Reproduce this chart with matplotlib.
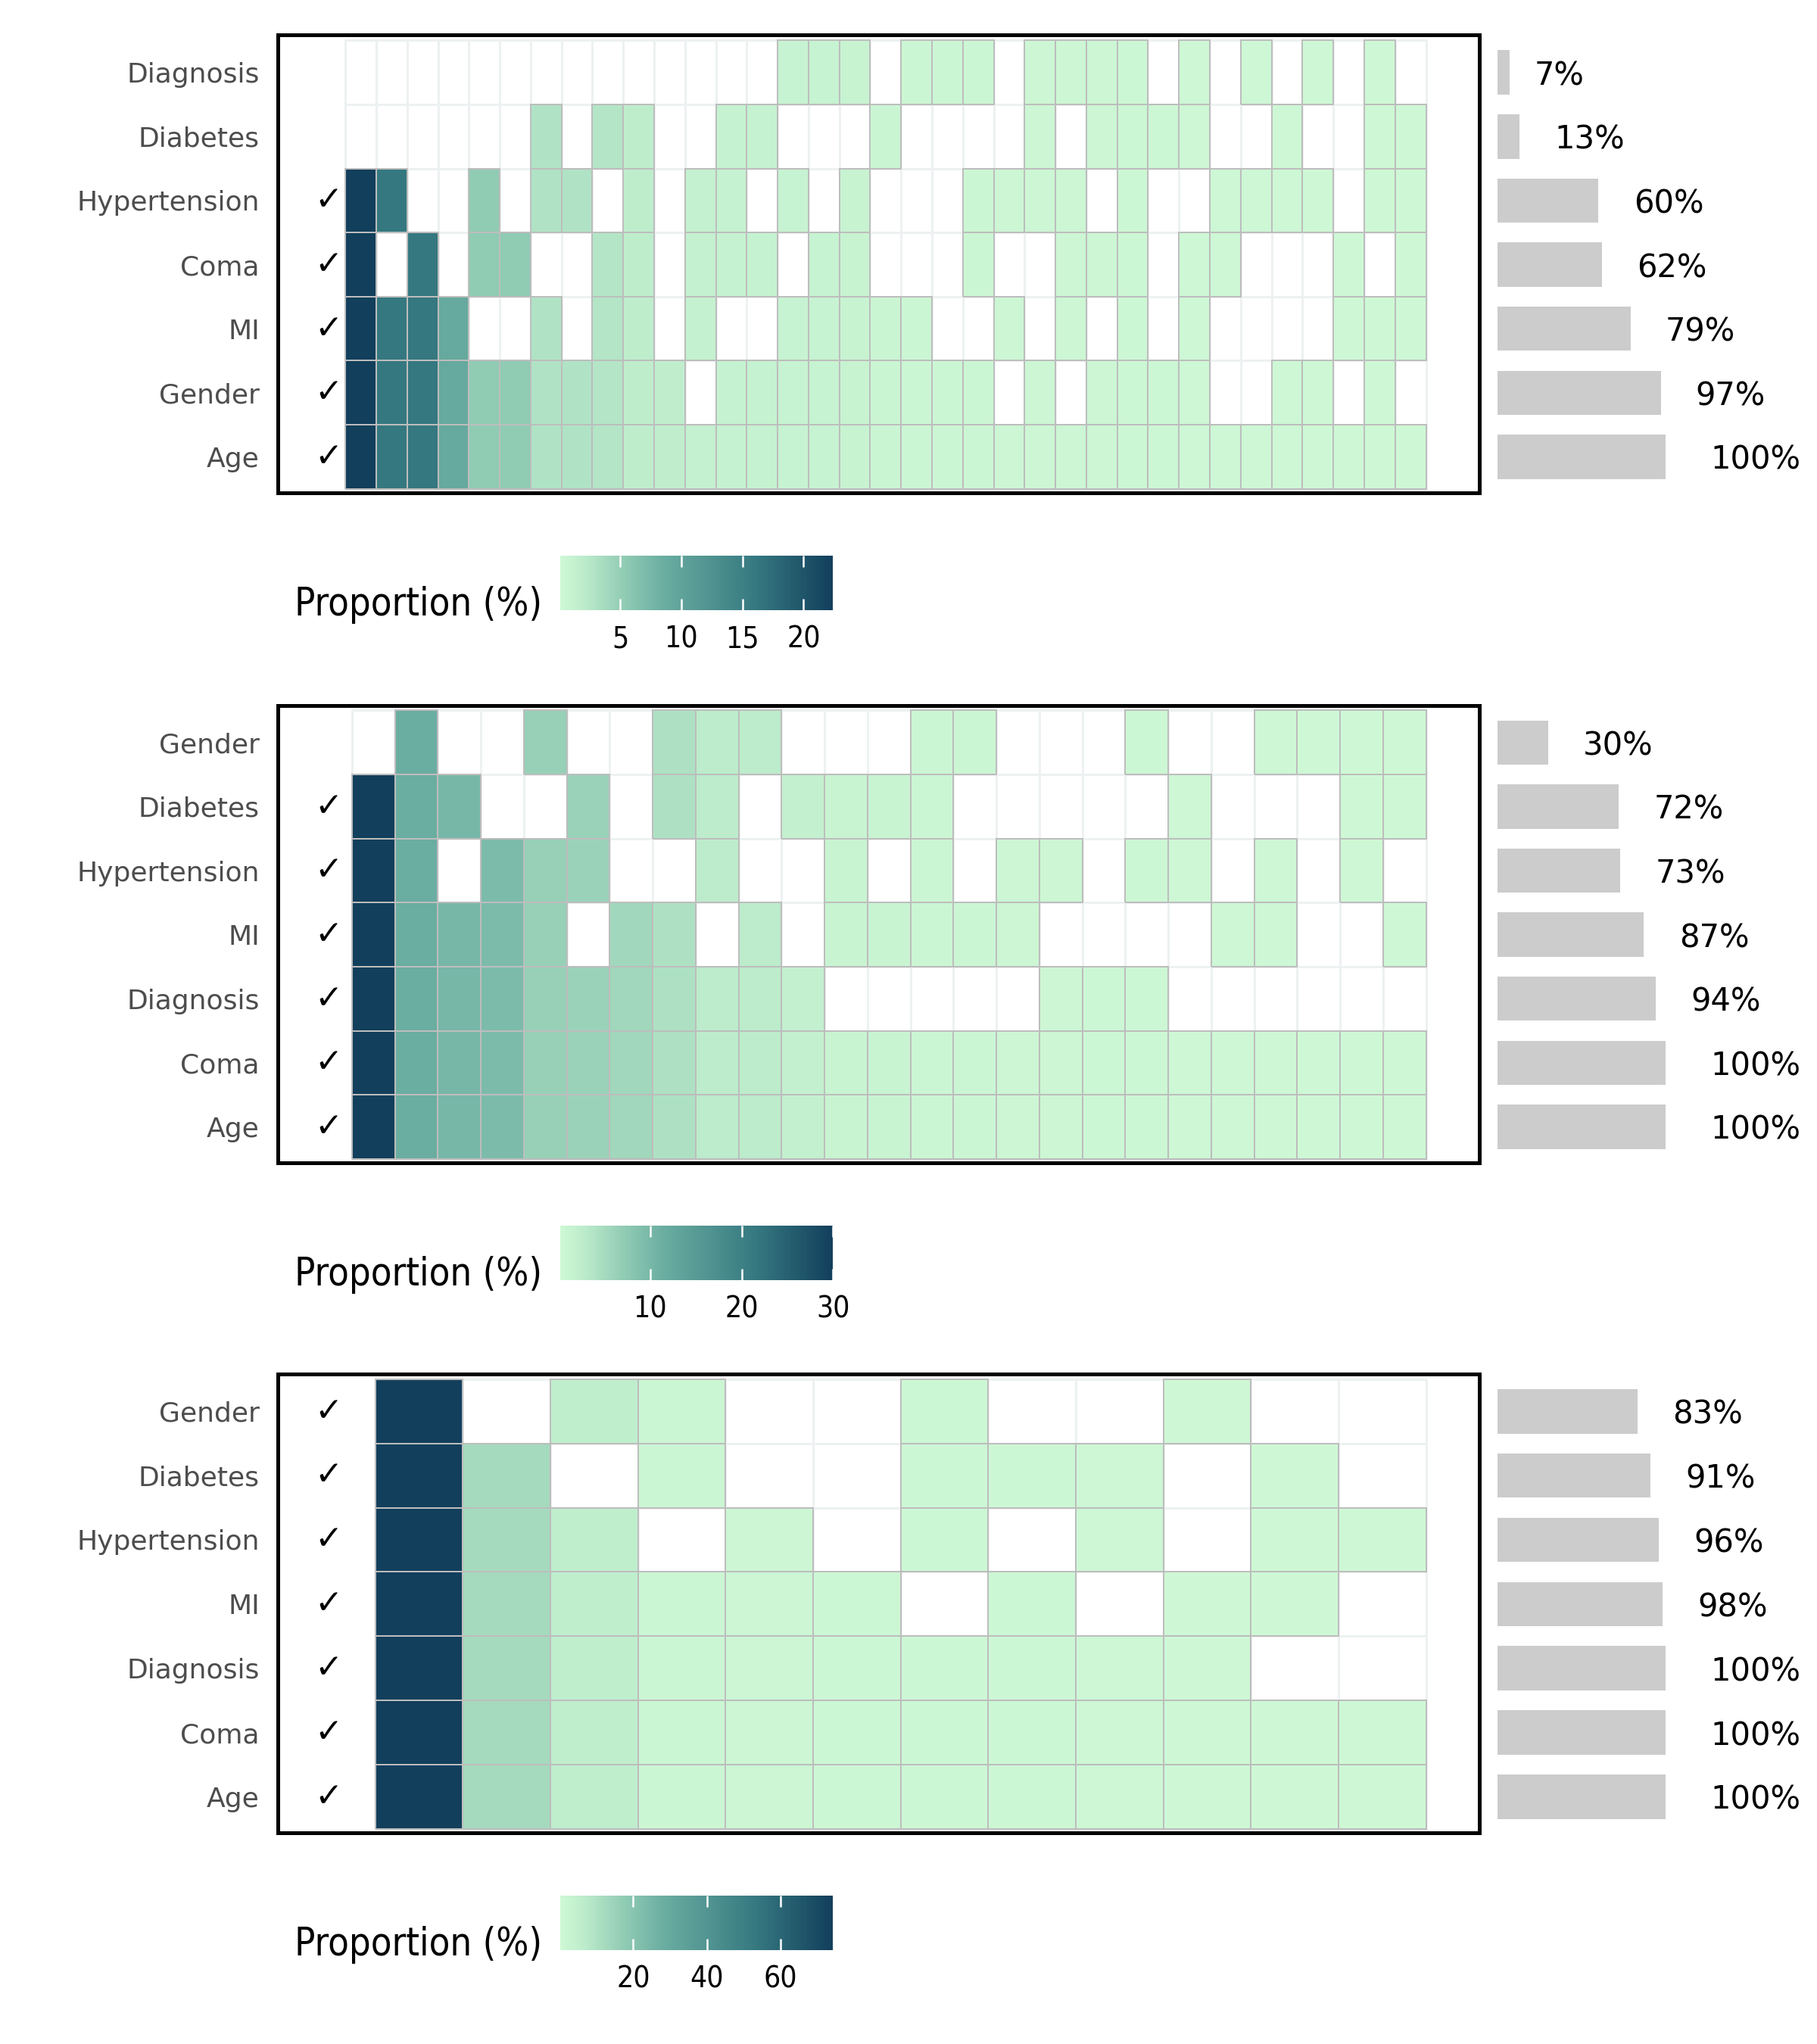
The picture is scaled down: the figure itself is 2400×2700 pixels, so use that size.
import numpy as np
import matplotlib
matplotlib.use("Agg")
import matplotlib.pyplot as plt
from matplotlib.colors import ListedColormap, LinearSegmentedColormap, to_rgba
import matplotlib.transforms as mtransforms

# -- Data ------------------------------------------------------------------
# Each panel: variables (top to bottom), proportion (%) of each pattern column,
# inclusion pattern per variable ("1" = variable in that column), and the
# share (%) shown in the grey bars.

P1_ROWS = ["Diagnosis", "Diabetes", "Hypertension", "Coma", "MI", "Gender", "Age"]
P1_PROPS = [22.4, 16.2, 16.2, 9.2, 5.4, 5.4, 3.0, 3.0, 2.8, 1.9, 1.7, 1.3,
            1.2, 1.1, 1.0, 1.0, 0.95, 0.6, 0.55, 0.5, 0.5, 0.45, 0.45, 0.4,
            0.4, 0.35, 0.35, 0.3, 0.3, 0.25, 0.25, 0.2, 0.2, 0.15, 0.13]
P1_PATTERN = [
    "00000000000000111011101111010101010",
    "00000010110011000100001011110010011",
    "11001011010110101000111101001111011",
    "10101100110111011000100111011000101",
    "11110010110100111110010101010000111",
    "11111111111011111111101011110011010",
    "11111111111111111111111111111111111",
]
P1_SHARE = [7, 13, 60, 62, 79, 97, 100]
P1_TICKS = [5, 10, 15, 20]

P2_ROWS = ["Gender", "Diabetes", "Hypertension", "MI", "Diagnosis", "Coma", "Age"]
P2_PROPS = [30.0, 11.5, 10.0, 9.55, 6.5, 6.2, 5.5, 4.2, 2.8, 2.8, 1.9, 1.2,
            1.18, 0.7, 0.65, 0.6, 0.55, 0.5, 0.45, 0.4, 0.35, 0.3, 0.25, 0.2, 0.17]
P2_PATTERN = [
    "0100100111000110001001111",
    "1110010110111100000100011",
    "1101110010010101101101010",
    "1111101101011111000011001",
    "1111111111100000111000000",
    "1111111111111111111111111",
    "1111111111111111111111111",
]
P2_SHARE = [30, 72, 73, 87, 94, 100, 100]
P2_TICKS = [10, 20, 30]

P3_ROWS = ["Gender", "Diabetes", "Hypertension", "MI", "Diagnosis", "Coma", "Age"]
P3_PROPS = [74.2, 12.4, 5.84, 1.5, 1.3, 1.1, 1.0, 0.9, 0.74, 0.5, 0.3, 0.26]
P3_PATTERN = [
    "101100100100",
    "110100111010",
    "111010101011",
    "111111010110",
    "111111111100",
    "111111111111",
    "111111111111",
]
P3_SHARE = [83, 91, 96, 98, 100, 100, 100]
P3_TICKS = [20, 40, 60]

# -- Style -------------------------------------------------------------------

FIG_W, FIG_H, DPI = 12, 13.5, 200
REF_W, REF_H = 1394, 1568          # layout grid the positions below refer to

CMAP = LinearSegmentedColormap.from_list("mint_navy", [
    (0.00, "#CEF8D5"),
    (0.08, "#BEEDCC"),
    (0.21, "#97D0B7"),
    (0.38, "#6AADA1"),
    (0.72, "#357880"),
    (1.00, "#123F5C"),
])
CELL_EDGE = "#BDBDBD"
EMPTY_EDGE = "#EDF1F1"
BAR_GREY = "#CCCCCC"
LABEL_GREY = "#4D4D4D"


def fx(px):
    return px / REF_W


def fy(py):
    return 1 - py / REF_H


# -- Panel -------------------------------------------------------------------

def draw_panel(fig, rows, props, pattern, share, ticks, top, bottom, heat_left, cb_top):
    n, nr = len(props), len(rows)
    box_l, box_r, heat_r = 213, 1135, 1094
    w = (heat_r - heat_left) / n
    row_h = (bottom - top - 7) / nr

    ax = fig.add_axes([fx(box_l), fy(bottom), fx(box_r) - fx(box_l), fy(top) - fy(bottom)])
    grid = np.array([[int(ch) for ch in p] for p in pattern[::-1]])
    vals = np.tile(np.asarray(props, float), (nr, 1))
    z = np.ma.masked_where(grid == 0, vals)
    xe, ye = np.arange(n + 1), np.arange(nr + 1)
    # faint grid behind the empty cells
    ax.pcolormesh(xe, ye, np.zeros((nr, n)), cmap=ListedColormap(["white"]),
                  edgecolors=EMPTY_EDGE, linewidth=0.5)
    mesh = ax.pcolormesh(xe, ye, z, cmap=CMAP, vmin=min(props), vmax=max(props),
                         linewidth=0.6)
    edge = np.array([to_rgba(CELL_EDGE) if g else (0, 0, 0, 0) for g in grid.ravel()])
    mesh.set_edgecolor(edge)
    ax.set_xlim(-(heat_left - box_l) / w, n + (box_r - heat_r) / w)
    ylim = (-3 / row_h, nr + 4 / row_h)
    ax.set_ylim(*ylim)

    yc = np.arange(nr)[::-1] + 0.5
    ax.set_xticks([])
    ax.set_yticks(yc)
    ax.set_yticklabels(rows, fontsize=13, color=LABEL_GREY)
    ax.tick_params(axis="y", length=0, pad=8.6)
    for s in ax.spines.values():
        s.set_linewidth(1.8)
        s.set_color("black")

    # check marks for variables in the leading pattern
    trans = mtransforms.blended_transform_factory(ax.transAxes, ax.transData)
    for y, p in zip(yc, pattern):
        if p[0] == "1":
            ax.text((252 - box_l) / (box_r - box_l), y, "\u2713", transform=trans,
                    ha="center", va="center", fontsize=16, color="black")

    # share bars
    bx = fig.add_axes([fx(1149), fy(bottom), fx(1278) - fx(1149), fy(top) - fy(bottom)])
    bx.barh(yc, share, height=0.69, color=BAR_GREY)
    bx.set_xlim(0, 100)
    bx.set_ylim(*ylim)
    bx.axis("off")
    labels = []
    for y, v in zip(yc, share):
        t = bx.annotate(f"{v}%", (v, y), xytext=(0, 0), textcoords="offset points",
                        ha="left", va="center_baseline", fontsize=15, color="black",
                        annotation_clip=False)
        labels.append(t)

    # colour bar
    cax = fig.add_axes([fx(430), fy(cb_top + 42), fx(639) - fx(430), 42 / REF_H])
    cb = fig.colorbar(mesh, cax=cax, orientation="horizontal", ticks=ticks)
    cb.outline.set_visible(False)
    cax.xaxis.set_ticks_position("both")
    cax.tick_params(axis="x", direction="in", length=5.5, width=0.9, color="white",
                    labelsize=14, pad=7, labeltop=False, labelbottom=True)
    for lbl in cax.get_xticklabels():
        lbl.set_fontstretch("condensed")
    fig.text(fx(226), fy(cb_top + 38), "Proportion (%)", ha="left", va="center",
             fontsize=18.2, fontstretch="condensed", color="black")
    return labels


fig = plt.figure(figsize=(FIG_W, FIG_H), dpi=DPI)
fig.patch.set_facecolor("white")

all_labels = []
all_labels += draw_panel(fig, P1_ROWS, P1_PROPS, P1_PATTERN, P1_SHARE, P1_TICKS,
                         27, 378, 265, 426)
all_labels += draw_panel(fig, P2_ROWS, P2_PROPS, P2_PATTERN, P2_SHARE, P2_TICKS,
                         541, 892, 270, 940)
all_labels += draw_panel(fig, P3_ROWS, P3_PROPS, P3_PATTERN, P3_SHARE, P3_TICKS,
                         1054, 1406, 288, 1454)

# push each percentage label right by half its own width
fig.canvas.draw()
renderer = fig.canvas.get_renderer()
for t in all_labels:
    w_px = t.get_window_extent(renderer).width
    t.xyann = (0.5 * w_px * 72 / DPI, 0)

fig.savefig("out.png", dpi=DPI, facecolor="white")
